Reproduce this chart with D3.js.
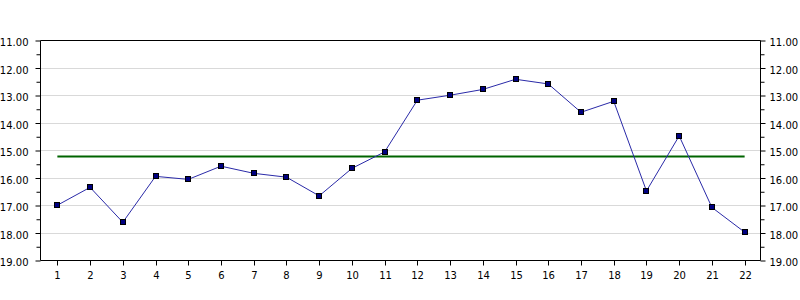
<!DOCTYPE html>
<html>
<head>
<meta charset="utf-8">
<script src="https://cdn.jsdelivr.net/npm/d3@7/dist/d3.min.js"></script>
<style>
  html, body { margin: 0; padding: 0; background: #fff; }
  svg { display: block; }
  text { font-family: "DejaVu Sans", sans-serif; font-size: 10px; fill: #000; }
</style>
</head>
<body>
<svg id="chart" width="800" height="300"></svg>
<script>
const categories = ["1","2","3","4","5","6","7","8","9","10","11","12","13","14","15","16","17","18","19","20","21","22"];
const values = [16.99, 16.34, 17.61, 15.94, 16.05, 15.57, 15.83, 15.97, 16.65, 15.65, 15.05, 13.17, 12.99, 12.78, 12.41, 12.58, 13.61, 13.21, 16.47, 14.47, 17.07, 17.97];
const averageValue = 15.22;
const yTicks = [11, 12, 13, 14, 15, 16, 17, 18, 19];
const yMinorTicks = [11.5, 12.5, 13.5, 14.5, 15.5, 16.5, 17.5, 18.5];

const svg = d3.select("#chart");
const pLeft = 40.5, pRight = 760.5, pTop = 40.5, pBottom = 260.5;

const x = d3.scaleBand().domain(categories).range([41, 761]).paddingInner(0).paddingOuter(0);
const cx = d => x(d) + x.bandwidth() / 2;
const y = d3.scaleLinear().domain([11, 19]).range([pTop, pBottom]);

// gridlines
svg.append("g").selectAll("line").data(yTicks.slice(1, -1)).join("line")
  .attr("x1", pLeft + 0.5).attr("x2", pRight - 0.5)
  .attr("y1", d => Math.round(y(d) - 0.5) + 0.5).attr("y2", d => Math.round(y(d) - 0.5) + 0.5)
  .attr("stroke", "#d9d9d9").attr("stroke-width", 1);

// top border
svg.append("line").attr("x1", pLeft).attr("x2", pRight).attr("y1", pTop).attr("y2", pTop)
  .attr("stroke", "#000");

// left axis
const yAxisL = d3.axisLeft(y).tickValues(yTicks).tickSize(5).tickPadding(7).tickFormat(d3.format(".2f"));
const gL = svg.append("g").attr("transform", `translate(${pLeft},0)`).call(yAxisL);
gL.select(".domain").attr("stroke", "#000").attr("d", `M0,${pTop}V${pBottom}`);
gL.selectAll("text").style("font-family", '"DejaVu Sans", sans-serif').style("font-size", "10px").attr("dy", "0.5em");
svg.append("g").attr("transform", `translate(${pLeft},0)`)
  .call(d3.axisLeft(y).tickValues(yMinorTicks).tickSize(4).tickFormat(""))
  .call(g => g.select(".domain").remove());

// right axis
const yAxisR = d3.axisRight(y).tickValues(yTicks).tickSize(5).tickPadding(4).tickFormat(d3.format(".2f"));
const gR = svg.append("g").attr("transform", `translate(${pRight},0)`).call(yAxisR);
gR.select(".domain").attr("stroke", "#000").attr("d", `M0,${pTop}V${pBottom}`);
gR.selectAll("text").style("font-family", '"DejaVu Sans", sans-serif').style("font-size", "10px").attr("dy", "0.5em");
svg.append("g").attr("transform", `translate(${pRight},0)`)
  .call(d3.axisRight(y).tickValues(yMinorTicks).tickSize(4).tickFormat(""))
  .call(g => g.select(".domain").remove());

// bottom axis
const xAxis = d3.axisBottom(x).tickSize(5).tickPadding(6);
const gB = svg.append("g").attr("transform", `translate(0,${pBottom})`).call(xAxis);
gB.select(".domain").attr("stroke", "#000").attr("d", `M${pLeft},0H${pRight}`);
gB.selectAll(".tick").attr("transform", d => `translate(${Math.round(cx(d)) + 0.5},0)`);
gB.selectAll("text").style("font-family", '"DejaVu Sans", sans-serif').style("font-size", "10px");

// average line
svg.append("line")
  .attr("x1", cx(categories[0])).attr("x2", cx(categories[categories.length - 1]))
  .attr("y1", y(averageValue)).attr("y2", y(averageValue))
  .attr("stroke", "#006400").attr("stroke-width", 2);

// series line
const line = d3.line().x((d, i) => cx(categories[i])).y(d => y(d));
svg.append("path").datum(values).attr("d", line)
  .attr("fill", "none").attr("stroke", "#2a2aa8").attr("stroke-width", 1);

// markers
svg.append("g").selectAll("rect").data(values).join("rect")
  .attr("x", (d, i) => Math.round(cx(categories[i])) - 3 + 0.5)
  .attr("y", d => Math.round(y(d)) - 3 + 0.5)
  .attr("width", 5).attr("height", 5)
  .attr("fill", "#000080").attr("stroke", "#000").attr("stroke-width", 1);
</script>
</body>
</html>
